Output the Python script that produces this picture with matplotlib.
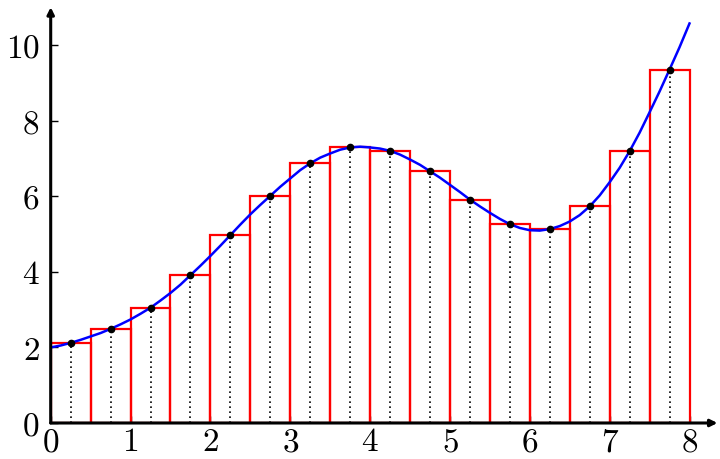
import matplotlib
matplotlib.use("Agg")
import matplotlib.pyplot as plt

# midpoint sample positions and the heights of the red rectangles
midpoints = [0.25, 0.75, 1.25, 1.75, 2.25, 2.75, 3.25, 3.75,
             4.25, 4.75, 5.25, 5.75, 6.25, 6.75, 7.25, 7.75]
heights = [2.12, 2.49, 3.05, 3.91, 4.97, 6.01, 6.87, 7.29,
           7.20, 6.66, 5.91, 5.26, 5.13, 5.73, 7.19, 9.35]

# blue curve, every 0.125
curve_x = [0.0, 0.125, 0.25, 0.375, 0.5, 0.625, 0.75, 0.875,
           1.0, 1.125, 1.25, 1.375, 1.5, 1.625, 1.75, 1.875,
           2.0, 2.125, 2.25, 2.375, 2.5, 2.625, 2.75, 2.875,
           3.0, 3.125, 3.25, 3.375, 3.5, 3.625, 3.75, 3.875,
           4.0, 4.125, 4.25, 4.375, 4.5, 4.625, 4.75, 4.875,
           5.0, 5.125, 5.25, 5.375, 5.5, 5.625, 5.75, 5.875,
           6.0, 6.125, 6.25, 6.375, 6.5, 6.625, 6.75, 6.875,
           7.0, 7.125, 7.25, 7.375, 7.5, 7.625, 7.75, 7.875, 8.0]
curve_y = [2.00, 2.05, 2.12, 2.20, 2.29, 2.38, 2.49, 2.61,
           2.74, 2.89, 3.05, 3.24, 3.44, 3.66, 3.91, 4.16,
           4.42, 4.69, 4.97, 5.25, 5.52, 5.77, 6.01, 6.25,
           6.47, 6.69, 6.87, 7.02, 7.13, 7.23, 7.29, 7.31,
           7.29, 7.26, 7.20, 7.10, 6.97, 6.83, 6.66, 6.49,
           6.30, 6.11, 5.91, 5.73, 5.56, 5.40, 5.26, 5.16,
           5.10, 5.09, 5.13, 5.21, 5.33, 5.50, 5.73, 6.02,
           6.37, 6.75, 7.19, 7.68, 8.22, 8.77, 9.35, 9.94, 10.57]

xticks = [0, 1, 2, 3, 4, 5, 6, 7, 8]
yticks = [0, 2, 4, 6, 8, 10]

plt.rcParams['font.family'] = 'serif'
plt.rcParams['font.serif'] = ['cmr10']
plt.rcParams['axes.formatter.use_mathtext'] = True

fig = plt.figure(figsize=(7.2, 4.6), dpi=100)
ax = fig.add_axes([50.7 / 720, 36 / 460, 8.35 * 79.85 / 720, 11.0 * 37.8 / 460])

width = 0.5
ax.bar(midpoints, heights, width=width, fill=False, edgecolor='#ff0000',
       linewidth=1.6, zorder=2)
ax.vlines(midpoints, 0, heights, colors='black', linestyles=(0, (1, 2.0)),
          linewidth=1.2, zorder=3)
ax.plot(curve_x, curve_y, color='#0000ff', linewidth=1.8, zorder=4)
ax.plot(midpoints, heights, 'o', color='black', markersize=4.5, zorder=5)

ax.set_xlim(0, 8.35)
ax.set_ylim(0, 11.0)
ax.set_xticks(xticks)
ax.set_yticks(yticks)
ax.tick_params(direction='in', length=5, width=1, labelsize=24, pad=3)
ax.tick_params(axis='y', pad=8)

for s in ['top', 'right', 'left', 'bottom']:
    ax.spines[s].set_visible(False)

# axes drawn as arrows
ax.annotate('', xy=(1.0, 0), xytext=(0, 0), xycoords='axes fraction',
            arrowprops=dict(arrowstyle='-|>', lw=2.2, color='black',
                            mutation_scale=10, shrinkA=0, shrinkB=0),
            zorder=6, annotation_clip=False)
ax.annotate('', xy=(0, 1.0), xytext=(0, 0), xycoords='axes fraction',
            arrowprops=dict(arrowstyle='-|>', lw=2.2, color='black',
                            mutation_scale=10, shrinkA=0, shrinkB=0),
            zorder=6, annotation_clip=False)

fig.savefig('out.png', dpi=100)
